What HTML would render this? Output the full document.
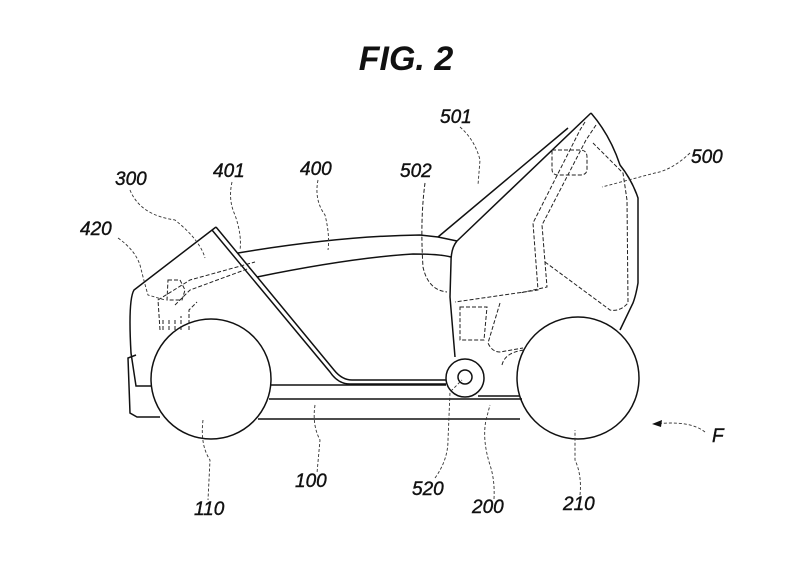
<!DOCTYPE html>
<html><head><meta charset="utf-8"><style>
html,body{margin:0;padding:0;background:#fff;}
svg{display:block}
text{font-family:"Liberation Sans",sans-serif;font-style:italic;fill:#111;}
</style></head><body>
<svg width="800" height="578" viewBox="0 0 800 578" xmlns="http://www.w3.org/2000/svg">
<text x="406" y="70" font-size="34" font-weight="bold" text-anchor="middle">FIG. 2</text>
<g font-size="19" stroke="#111" stroke-width="0.4">
<text x="115" y="185">300</text>
<text x="213" y="177">401</text>
<text x="300" y="175">400</text>
<text x="400" y="177">502</text>
<text x="440" y="123">501</text>
<text x="691" y="163">500</text>
<text x="80" y="235">420</text>
<text x="194" y="515">110</text>
<text x="295" y="487">100</text>
<text x="412" y="495">520</text>
<text x="472" y="513">200</text>
<text x="563" y="510">210</text>
<text x="712" y="442">F</text>
</g>
<g fill="none" stroke="#111" stroke-width="1.5">
<!-- wheels -->
<circle cx="211" cy="379" r="60" fill="#fff"/>
<circle cx="578" cy="378" r="61" fill="#fff"/>
<circle cx="465" cy="378" r="19"/>
<circle cx="465" cy="377" r="7"/>
<!-- floor -->
<path d="M271 385 H446"/>
<path d="M269 399 H522"/>
<path d="M258 419 H520"/>
<path d="M478 396 H520"/>
<!-- front -->
<path d="M216 227 L134 290 Q128 300 131 353 L136 386 H151"/>
<path d="M136 355 L128 358 L130 413 L137 417 H160"/>
<!-- windshield -->
<path d="M216 227 L334 370 Q342 380 352 380 H446"/>
<path d="M212 230 L330 372 Q338 384 350 384 H446"/>
<!-- roof -->
<path d="M238 253 Q340 236 420 235 L438 237 L457 241"/>
<path d="M257 277 Q350 258 413 254 Q440 254 451 257"/>
<!-- door 501/500 -->
<path d="M438 237 L568 128"/>
<path d="M457 241 L591 113"/>
<path d="M591 113 Q610 135 620 165 Q632 180 638 198 L638 283 Q636 295 633 303 L620 330"/>
<path d="M457 241 Q451 248 451 262 L450 297 L455 357"/>
</g>
<!-- dashed internal structures -->
<g fill="none" stroke="#222" stroke-width="1" stroke-dasharray="4 2">
<path d="M160 330 L158 300 L190 280 L255 262"/>
<path d="M175 305 L190 290 L250 268"/>
<path d="M168 280 h12 l5 10 l-3 10 h-15 z"/>
<path d="M163 330 v-10 m6 10 v-10 m6 10 v-12 m6 12 v-14 m8 14 v-20 l8 -8"/>
<path d="M585 122 L580 130 L533 223 L538 290 L455 302"/>
<path d="M596 125 L586 140 L542 225 L547 287 L520 293"/>
<path d="M545 262 L610 310 Q620 312 628 303 L627 200 L623 173 L593 143"/>
<path d="M552 150 h28 q7 0 7 7 v12 q0 6 -7 6 h-22 q-6 0 -6 -6 z"/>
<path d="M460 307 h27 l-3 33 h-24 z"/>
<path d="M500 303 L488 343 Q492 352 500 352 L523 348"/>
<path d="M502 365 Q505 352 525 350"/>
<path d="M425 183 Q420 220 423 267 Q428 290 447 292"/>
</g>
<!-- leader lines -->
<g fill="none" stroke="#333" stroke-width="0.9" stroke-dasharray="3 2">
<path d="M130 190 Q140 215 175 220 Q200 240 205 258"/>
<path d="M232 182 Q228 200 235 215 Q242 235 240 250"/>
<path d="M318 180 Q314 200 325 215 Q330 235 328 250"/>
<path d="M460 127 Q475 140 480 160 L478 185"/>
<path d="M690 153 Q672 170 655 173 L602 187"/>
<path d="M118 238 Q135 250 140 265 Q145 285 148 295 L165 300"/>
<path d="M203 420 Q200 445 210 460 L208 500"/>
<path d="M315 405 Q312 425 320 440 L317 473"/>
<path d="M435 478 Q448 460 448 440 L450 392 L462 380"/>
<path d="M494 499 Q495 480 490 465 Q482 440 486 420 L490 405"/>
<path d="M580 495 Q582 475 575 460 L575 430"/>
<path d="M705 432 Q690 420 655 424"/>
</g>
<path d="M652 424 L662 420 L661 427 Z" fill="#111"/>
</svg>
</body></html>
